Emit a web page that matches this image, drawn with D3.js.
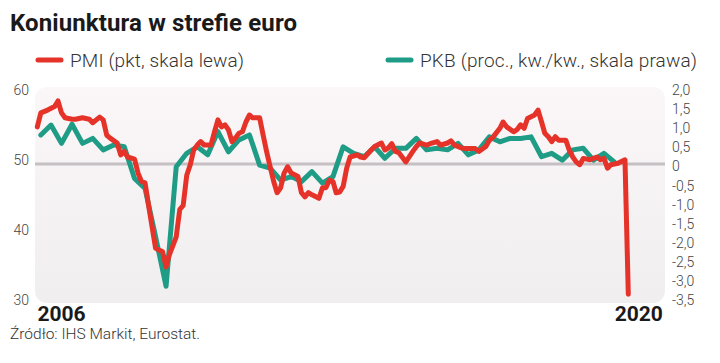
<!DOCTYPE html>
<html>
<head>
<meta charset="utf-8">
<script src="https://cdn.jsdelivr.net/npm/d3@7"></script>
<style>
  body { margin: 0; background: #fff; }
  svg { display: block; font-family: Roboto, "Noto Sans", sans-serif; }
</style>
</head>
<body>
<div id="chart"></div>
<script>
// PMI, monthly, left scale
var pmiMonths = ["2006-01","2006-02","2006-04","2006-06","2006-07","2006-08","2006-09","2006-11","2006-12",
  "2007-02","2007-04","2007-05","2007-07","2007-08","2007-09","2007-10","2007-12",
  "2008-01","2008-02","2008-03","2008-05","2008-06","2008-07","2008-08","2008-09","2008-11","2008-12",
  "2009-01","2009-02","2009-03","2009-05","2009-06","2009-07","2009-08","2009-09","2009-10","2009-11","2009-12",
  "2010-01","2010-03","2010-04","2010-05","2010-06","2010-07","2010-08","2010-09","2010-10","2010-11","2010-12",
  "2011-01","2011-02","2011-03","2011-05","2011-06","2011-07","2011-08","2011-09","2011-10","2011-11","2011-12",
  "2012-01","2012-02","2012-04","2012-05","2012-06","2012-07","2012-08","2012-10","2012-11","2012-12",
  "2013-01","2013-02","2013-03","2013-04","2013-05","2013-06","2013-07","2013-09","2013-10","2013-11",
  "2014-01","2014-02","2014-04","2014-05","2014-06","2014-07","2014-08","2014-09","2014-11",
  "2015-01","2015-02","2015-03","2015-05","2015-06","2015-08","2015-09","2015-11","2015-12",
  "2016-01","2016-03","2016-04","2016-06","2016-07","2016-08","2016-10","2016-11","2016-12",
  "2017-02","2017-03","2017-04","2017-06","2017-07","2017-08","2017-09","2017-10","2017-12",
  "2018-01","2018-02","2018-03","2018-04","2018-05","2018-06","2018-07","2018-09","2018-10","2018-11","2018-12",
  "2019-01","2019-02","2019-04","2019-05","2019-06","2019-07","2019-08","2019-09","2019-10","2019-12",
  "2020-02","2020-03"];
var pmiValues = [55.3,57.3,57.7,58.2,59.0,57.3,56.6,56.4,56.4,
  56.6,56.4,55.9,56.7,56.3,54.1,53.7,53.0,
  51.3,51.8,51.0,50.7,48.7,47.5,47.3,44.1,38.0,37.7,
  37.5,35.3,37.0,39.6,43.5,44.1,48.4,49.9,52.0,52.7,53.2,
  52.7,52.7,54.6,56.3,55.3,55.6,54.9,53.2,53.7,54.4,54.6,
  56.0,57.0,56.6,56.6,54.1,51.8,49.6,47.5,45.9,46.6,48.7,
  49.6,48.7,48.2,45.9,45.3,45.9,45.6,45.1,46.6,46.6,
  47.7,47.5,45.9,46.0,46.8,49.4,51.0,51.3,51.0,50.9,
  52.0,52.5,53.0,52.0,52.3,52.9,51.8,51.6,50.3,
  51.8,52.5,53.0,52.7,52.9,53.2,52.7,53.0,53.3,
  52.7,52.3,52.2,52.2,52.2,51.8,52.5,53.4,53.8,
  55.1,56.0,55.3,54.6,54.9,55.6,55.1,56.5,57.0,
  57.7,56.0,54.4,53.9,53.2,53.9,53.4,53.4,52.0,51.0,50.3,
  49.9,50.8,50.6,50.8,51.0,50.6,50.8,49.4,49.9,50.1,
  50.6,31.4];

// PKB, quarter on quarter, plotted at the middle month of each quarter, right scale
var gdpQuarters = ["2006-02","2006-05","2006-08","2006-11","2007-02","2007-05","2007-08","2007-11",
  "2008-02","2008-05","2008-08","2008-11","2009-02","2009-05","2009-08","2009-11",
  "2010-02","2010-05","2010-08","2010-11","2011-02","2011-05","2011-08","2011-11",
  "2012-02","2012-05","2012-08","2012-11","2013-02","2013-05","2013-08","2013-11",
  "2014-02","2014-05","2014-08","2014-11","2015-02","2015-05","2015-08","2015-11",
  "2016-02","2016-05","2016-08","2016-11","2017-02","2017-05","2017-08","2017-11",
  "2018-02","2018-05","2018-08","2018-11","2019-02","2019-05","2019-08","2019-11"];
var gdpValues = [0.76,1.02,0.54,1.04,0.54,0.67,0.37,0.5,
  0.45,-0.38,-0.64,-1.9,-3.2,-0.07,0.28,0.45,
  0.24,0.85,0.32,0.63,0.76,-0.03,-0.11,-0.42,
  -0.33,-0.46,-0.2,-0.5,-0.33,0.45,0.28,0.19,
  0.45,0.15,0.41,0.41,0.67,0.37,0.41,0.37,
  0.54,0.24,0.37,0.71,0.58,0.67,0.67,0.71,
  0.19,0.28,0.1,0.37,0.41,0.1,0.28,0.05];

var leftTicks = [30, 40, 50, 60];
var rightTicks = [2, 1.5, 1, 0.5, 0, -0.5, -1, -1.5, -2, -2.5, -3, -3.5];
var yearLabels = ["2006", "2020"];

var width = 720, height = 363;
var red = "#e5332a", green = "#1f9c85";

var parse = d3.timeParse("%Y-%m");
var pmi = pmiMonths.map(function(m, i) { return { date: parse(m), value: pmiValues[i] }; });
var gdp = gdpQuarters.map(function(m, i) { return { date: parse(m), value: gdpValues[i] }; });

var x = d3.scaleTime().domain([parse("2006-01"), parse("2020-03")]).range([37.3, 628.3]);
var yL = d3.scaleLinear().domain([30, 60]).range([304, 94]);
var yR = d3.scaleLinear().domain([-3.5, 2]).range([297.7, 87.6]);

var svg = d3.select("#chart").append("svg")
    .attr("width", width)
    .attr("height", height);

var defs = svg.append("defs");
var grad = defs.append("linearGradient").attr("id", "bg").attr("x1", 0).attr("y1", 0).attr("x2", 0).attr("y2", 1);
grad.append("stop").attr("offset", "0%").attr("stop-color", "#fbf7f8");
grad.append("stop").attr("offset", "100%").attr("stop-color", "#f1eef0");

// title
svg.append("text")
    .attr("x", 10).attr("y", 31)
    .attr("font-size", 24).attr("font-weight", 700)
    .attr("fill", "#1a1a1a")
    .attr("textLength", 287).attr("lengthAdjust", "spacing")
    .text("Koniunktura w strefie euro");

// legend (text widths matched to the reference)
var legend = [
  { label: "PMI (pkt, skala lewa)", color: red, x: 36, w: 174 },
  { label: "PKB (proc., kw./kw., skala prawa)", color: green, x: 386, w: 277 }
];
var lg = svg.selectAll(".legend").data(legend).enter().append("g")
    .attr("class", "legend")
    .attr("transform", function(d) { return "translate(" + d.x + ",60)"; });
lg.append("line")
    .attr("x1", 2).attr("x2", 25).attr("y1", 0).attr("y2", 0)
    .attr("stroke", function(d) { return d.color; })
    .attr("stroke-width", 5).attr("stroke-linecap", "round");
lg.append("text")
    .attr("x", 34).attr("y", 7)
    .attr("font-size", 19).attr("font-weight", 300)
    .attr("fill", "#333")
    .attr("textLength", function(d) { return d.w; }).attr("lengthAdjust", "spacing")
    .text(function(d) { return d.label; });

// plot background
svg.append("rect")
    .attr("x", 35).attr("y", 87)
    .attr("width", 630).attr("height", 216)
    .attr("rx", 12).attr("ry", 12)
    .attr("fill", "url(#bg)");

// reference line at 50 / 0
svg.append("line")
    .attr("x1", 35).attr("x2", 665)
    .attr("y1", yL(50)).attr("y2", yL(50))
    .attr("stroke", "#c6bfc3").attr("stroke-width", 3);

// axes
var leftAxis = d3.axisLeft(yL).tickValues(leftTicks).tickSize(0).tickPadding(0);
var gl = svg.append("g").attr("transform", "translate(29,-4)").call(leftAxis);
gl.select(".domain").remove();
gl.selectAll("text").attr("font-size", 14).attr("font-weight", 300).attr("fill", "#444")
    .style("font-family", "Roboto, sans-serif");

var fmt = function(d) {
  if (d === 0) return "0";
  return (d < 0 ? "-" : "") + Math.abs(d).toFixed(1).replace(".", ",");
};
var rightAxis = d3.axisRight(yR).tickValues(rightTicks).tickFormat(fmt).tickSize(0).tickPadding(0);
var gr = svg.append("g").attr("transform", "translate(672,2.5)").call(rightAxis);
gr.select(".domain").remove();
gr.selectAll("text").attr("font-size", 14).attr("font-weight", 300).attr("fill", "#444")
    .style("font-family", "Roboto, sans-serif");

// lines
var gdpLine = d3.line().x(function(d) { return x(d.date); }).y(function(d) { return yR(d.value); });
var pmiLine = d3.line().x(function(d) { return x(d.date); }).y(function(d) { return yL(d.value); });

svg.append("path").datum(gdp)
    .attr("d", gdpLine)
    .attr("fill", "none").attr("stroke", green)
    .attr("stroke-width", 5).attr("stroke-linejoin", "round").attr("stroke-linecap", "round");

svg.append("path").datum(pmi)
    .attr("d", pmiLine)
    .attr("fill", "none").attr("stroke", red)
    .attr("stroke-width", 5).attr("stroke-linejoin", "round").attr("stroke-linecap", "round");

// year labels, centred near mid-year
svg.selectAll(".year").data(yearLabels).enter().append("text")
    .attr("class", "year")
    .attr("x", function(d) { return d === "2006" ? x(parse("2006-08")) : x(parse("2020-06")); })
    .attr("y", 321)
    .attr("text-anchor", "middle")
    .attr("font-size", 21).attr("font-weight", 700)
    .attr("fill", "#1a1a1a")
    .text(function(d) { return d; });

// source
svg.append("text")
    .attr("x", 10).attr("y", 339)
    .attr("font-size", 15.5).attr("font-weight", 300)
    .attr("fill", "#333")
    .text("Źródło: IHS Markit, Eurostat.");
</script>
</body>
</html>
